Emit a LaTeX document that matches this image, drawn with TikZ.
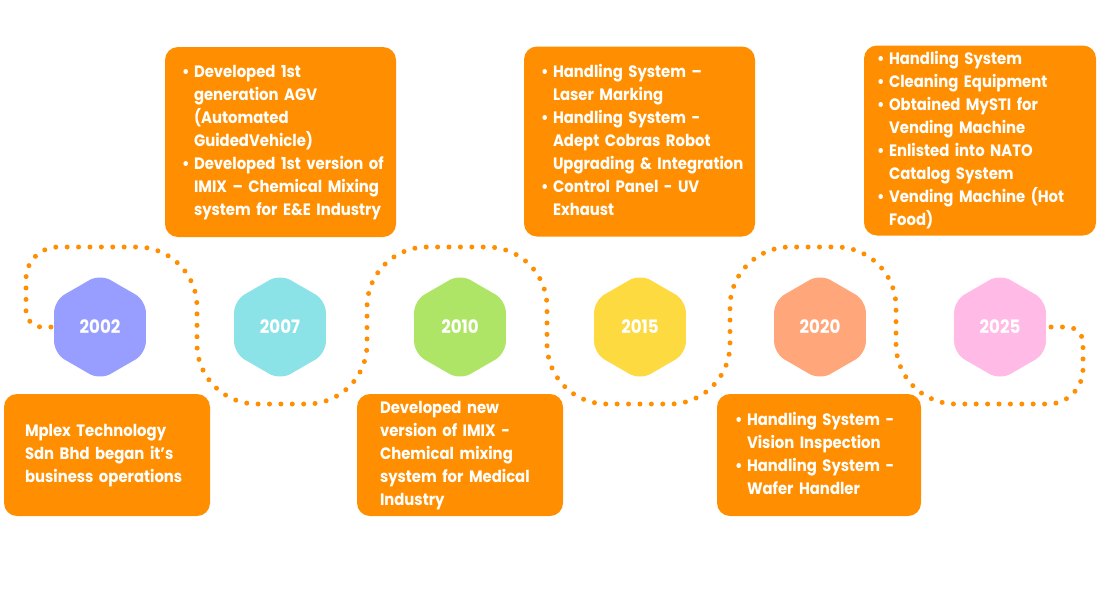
\documentclass[tikz,border=0pt]{standalone}
\usepackage{fontspec}
\setmainfont{Poppins}[FakeStretch=0.9]
\usepackage{tikz}
\usetikzlibrary{shapes.geometric}

\definecolor{boxorange}{HTML}{FF8F00}
\definecolor{hexblue}{HTML}{979EFF}
\definecolor{hexcyan}{HTML}{8BE3E8}
\definecolor{hexgreen}{HTML}{AFE567}
\definecolor{hexyellow}{HTML}{FDDA40}
\definecolor{hexsalmon}{HTML}{FFA77A}
\definecolor{hexpink}{HTML}{FFBBE6}

\newcommand{\bul}{\makebox[12pt][l]{\textbullet}}
\newcommand{\ind}{\hspace*{12pt}}

\begin{document}
\begin{tikzpicture}[x=1pt,y=-1pt,
		hexa/.style={regular polygon, regular polygon sides=6, regular polygon rotate=30, minimum size=106pt, inner sep=0pt, rounded corners=12pt, text=white, font=\fontsize{18.5}{20}\selectfont\bfseries},
		card/.style={fill=boxorange, rounded corners=13pt, text=white, align=left, inner ysep=0pt, font=\fontsize{16.5}{23}\selectfont\bfseries},
		topcard/.style={card, minimum width=231pt, minimum height=190pt},
		lowcard/.style={card, minimum width=206pt, minimum height=122pt},
		trail/.style={draw=boxorange, line width=5pt, line cap=round, dash pattern=on 0pt off 11.4pt, shorten <=3pt, shorten >=3pt}]
		\useasboundingbox (0,0) rectangle (1100,600);
		\node[hexa, fill=hexblue] (y02) at (100,327) {2002};
		\node[hexa, fill=hexcyan] (y07) at (280,327) {2007};
		\node[hexa, fill=hexgreen] (y10) at (460,327) {2010};
		\node[hexa, fill=hexyellow] (y15) at (640,327) {2015};
		\node[hexa, fill=hexsalmon] (y20) at (820,327) {2020};
		\node[hexa, fill=hexpink] (y25) at (1000,327) {2025};
		\draw[trail] (y02.west) [rounded corners=16pt] -- (26,327) [rounded corners=32pt] -- (26,247) [rounded corners=60pt] -- (197,247) -- (197,404) -- (367,404) -- (367,247) -- (547,247) -- (547,404) -- (730,404) -- (730,247) -- (896,247) -- (896,404) [rounded corners=35pt] -- (1083,404) [rounded corners=16pt] -- (1083,327) -- (y25.east);
		\node[topcard, inner xsep=17pt, text width=197pt] (t07) at (280.5,142) {\begin{tabular}{@{}l@{}}\bul Developed 1st\\ \ind generation AGV\\ \ind (Automated\\ \ind GuidedVehicle)\\ \bul Developed 1st version of\\ \ind IMIX – Chemical Mixing\\ \ind system for E\&E Industry\end{tabular}};
		\node[topcard, inner xsep=17pt, text width=197pt] (t15) at (639.5,141.5) {\begin{tabular}{@{}l@{}}\bul Handling System –\\ \ind Laser Marking\\ \bul Handling System -\\ \ind Adept Cobras Robot\\ \ind Upgrading \& Integration\\ \bul Control Panel - UV\\ \ind Exhaust\end{tabular}};
		\node[topcard, minimum width=232pt, inner xsep=13pt, text width=206pt] (t25) at (980,140.5) {\begin{tabular}{@{}l@{}}\bul Handling System\\ \bul Cleaning Equipment\\ \bul Obtained MySTI for\\ \ind Vending Machine\\ \bul Enlisted into NATO\\ \ind Catalog System\\ \bul Vending Machine (Hot\\ \ind Food)\end{tabular}};
		\node[lowcard, inner xsep=21pt, text width=164pt] (b02) at (107,455) {\begin{tabular}{@{}l@{}}Mplex Technology\\ Sdn Bhd began it’s\\ business operations\end{tabular}};
		\node[lowcard, inner xsep=23pt, text width=160pt] (b10) at (460,455) {\begin{tabular}{@{}l@{}}Developed new\\ version of IMIX -\\ Chemical mixing\\ system for Medical\\ Industry\end{tabular}};
		\node[lowcard, minimum width=204pt, inner xsep=18pt, text width=168pt] (b20) at (819,455) {\begin{tabular}{@{}l@{}}\bul Handling System -\\ \ind Vision Inspection\\ \bul Handling System -\\ \ind Wafer Handler\end{tabular}};
	\end{tikzpicture}
\end{document}
